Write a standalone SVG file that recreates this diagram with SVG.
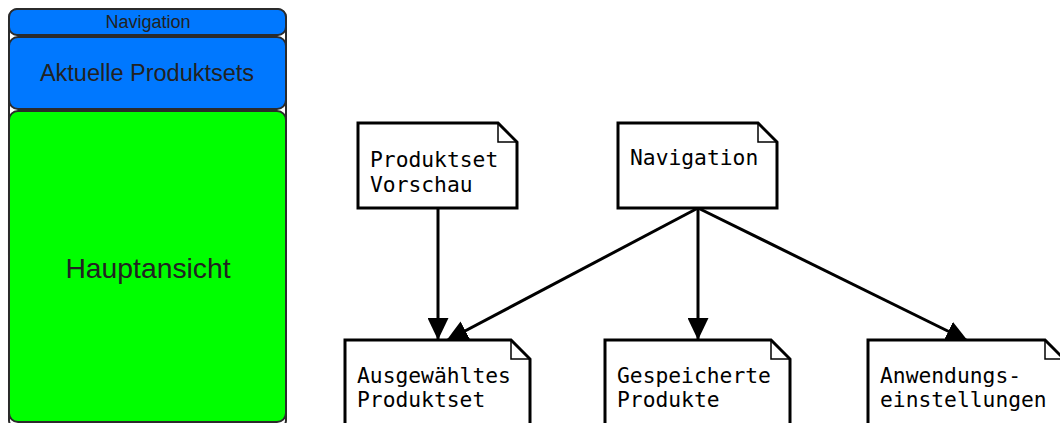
<svg xmlns="http://www.w3.org/2000/svg" width="1060" height="423" viewBox="0 0 1060 423">
  <style>
    .frame { fill: #ffffff; stroke: #2b2b2b; stroke-width: 2; }
    .region { stroke: #2b2b2b; stroke-width: 2; }
    .blue { fill: #0078ff; }
    .green { fill: #00ff00; }
    .rlabel { font-family: "Liberation Sans", Arial, sans-serif; fill: #222222; text-anchor: middle; }
    .note { fill: #ffffff; stroke: #000000; stroke-width: 3; stroke-linejoin: miter; }
    .fold { fill: none; stroke: #000000; stroke-width: 1.5; }
    .ntext { font-family: "DejaVu Sans Mono", "Liberation Mono", monospace; font-size: 21.3px; fill: #000000; }
    .edge { fill: none; stroke: #000000; stroke-width: 3; }
  </style>
  <defs>
    <marker id="head" viewBox="0 0 22 21" refX="22" refY="10.5" markerWidth="22" markerHeight="21" markerUnits="userSpaceOnUse" orient="auto">
      <path d="M0,0 L22,10.5 L0,21 Z" fill="#000000"/>
    </marker>
  </defs>

  <rect width="1060" height="423" fill="#ffffff"/>

  <!-- screen layout -->
  <g id="layout">
    <rect class="frame" x="9" y="9" width="277" height="420" rx="9"/>
    <g id="region-navigation">
      <rect class="region blue" x="9" y="9" width="277" height="26" rx="8"/>
      <text class="rlabel" x="148" y="28" font-size="18">Navigation</text>
    </g>
    <g id="region-produktsets">
      <rect class="region blue" x="9" y="37" width="277" height="72" rx="9"/>
      <text class="rlabel" x="147" y="81" font-size="23.5">Aktuelle Produktsets</text>
    </g>
    <g id="region-hauptansicht">
      <rect class="region green" x="9" y="111" width="277" height="311" rx="9"/>
      <text class="rlabel" x="148" y="278" font-size="28.3">Hauptansicht</text>
    </g>
  </g>

  <!-- connectors -->
  <g id="connectors">
    <path class="edge" d="M438,208 L438,340" marker-end="url(#head)"/>
    <path class="edge" d="M698,208 L446,341" marker-end="url(#head)"/>
    <path class="edge" d="M698,208 L698,340" marker-end="url(#head)"/>
    <path class="edge" d="M698,208 L968,341" marker-end="url(#head)"/>
  </g>

  <!-- component notes -->
  <g id="n-vorschau">
    <path class="note" d="M358,123 L498,123 L517,142 L517,208 L358,208 Z"/>
    <path class="fold" d="M498,123 L498,142 L517,142"/>
    <text class="ntext" x="370" y="167">Produktset</text>
    <text class="ntext" x="370" y="192">Vorschau</text>
  </g>
  <g id="n-navigation">
    <path class="note" d="M618,123 L758,123 L777,142 L777,208 L618,208 Z"/>
    <path class="fold" d="M758,123 L758,142 L777,142"/>
    <text class="ntext" x="630" y="165">Navigation</text>
  </g>
  <g id="n-ausgewaehlt">
    <path class="note" d="M345,340 L511,340 L530,359 L530,430 L345,430 Z"/>
    <path class="fold" d="M511,340 L511,359 L530,359"/>
    <text class="ntext" x="357" y="383">Ausgewähltes</text>
    <text class="ntext" x="357" y="407">Produktset</text>
  </g>
  <g id="n-gespeichert">
    <path class="note" d="M605,340 L771,340 L790,359 L790,430 L605,430 Z"/>
    <path class="fold" d="M771,340 L771,359 L790,359"/>
    <text class="ntext" x="617" y="383">Gespeicherte</text>
    <text class="ntext" x="617" y="407">Produkte</text>
  </g>
  <g id="n-einstellungen">
    <path class="note" d="M868,340 L1045,340 L1064,359 L1064,430 L868,430 Z"/>
    <path class="fold" d="M1045,340 L1045,359 L1064,359"/>
    <text class="ntext" x="880" y="383">Anwendungs-</text>
    <text class="ntext" x="880" y="407">einstellungen</text>
  </g>
</svg>
